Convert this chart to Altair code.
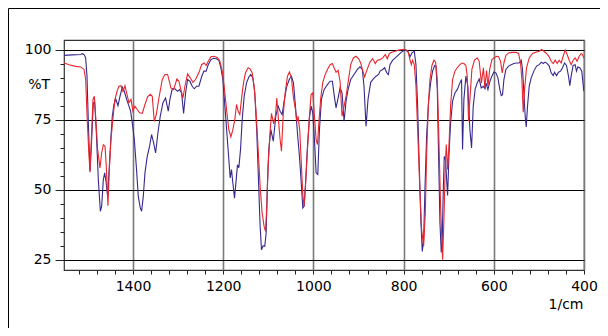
import altair as alt
import pandas as pd

# ---- data (wavenumber in 1/cm, transmittance in %T) ----
blue_wn = [1553, 1534.5, 1516, 1512.3, 1508, 1505, 1502, 1499, 1495.3, 1491.6, 1488, 1485, 1481.3, 1476.9,
           1472.4, 1469.5, 1465.8, 1462.8, 1459.9, 1456.2, 1452.5, 1448.8, 1445.9, 1442.2, 1438.5, 1433.3,
           1428.9, 1423.7, 1419.3, 1414.1, 1409, 1405.3, 1401.6, 1397.1, 1392.7, 1388.3, 1383.9, 1380.9,
           1377.2, 1373.5, 1368.4, 1363.2, 1358.8, 1354.3, 1349.9, 1344.7, 1339.6, 1333.6, 1327.8, 1321.8,
           1318.1, 1313, 1307, 1301.1, 1296.7, 1292.3, 1287.8, 1283.4, 1279, 1273.8, 1268.7, 1264.2, 1259.1,
           1253.9, 1248, 1242.8, 1237.7, 1233.2, 1227.3, 1221.4, 1214.8, 1209.6, 1205.2, 1200.8, 1196.3,
           1191.9, 1187.5, 1184.5, 1181.6, 1178.6, 1174.9, 1171.2, 1168.3, 1165.3, 1161.6, 1157.9, 1153.5,
           1148.3, 1143.1, 1138.8, 1134.3, 1129.9, 1125.5, 1121.8, 1118.1, 1115.1, 1111.4, 1107.8, 1104.8,
           1101.9, 1098.9, 1094.5, 1089, 1083.4, 1078.2, 1073.8, 1069.3, 1064.9, 1059, 1053.1, 1048.7,
           1044.2, 1039.8, 1035.4, 1030.9, 1026.5, 1023.5, 1020.6, 1016.9, 1013.2, 1008.8, 1005.1, 1001.4,
           997.7, 994, 990.3, 986.6, 982.2, 976.3, 968.9, 963, 957.9, 954.2, 949.8, 945.3, 940.9, 936.5, 932,
           927.6, 923.2, 917.3, 909.9, 902.5, 896.6, 891.5, 887.8, 883.3, 878.9, 873, 867.1, 861.2, 855.3,
           852.3, 846.4, 842, 837.5, 833.8, 830.2, 824.2, 818.3, 812.4, 806.5, 800.6, 794.7, 789.6, 785.9,
           781.5, 776.3, 772.6, 768.9, 765.2, 761.5, 758.6, 755.6, 752.7, 749, 744.5, 740.1, 735.7, 731.2,
           728.3, 725.3, 722.4, 719.4, 716.5, 714.3, 712, 709.8, 706.9, 704.6, 702.4, 699.5, 695.8, 691.4,
           686.2, 681.1, 675.1, 671.5, 669.3, 666.3, 661.9, 657.5, 653, 649.3, 645.6, 641.2, 636.8, 632.4,
           627.9, 623.5, 619.5, 617.5, 613, 608.6, 604.2, 599.8, 595.3, 590.9, 586.5, 583.5, 580.6, 577.6,
           573.2, 567.3, 561.4, 555.5, 549.6, 543.6, 539.2, 536.3, 533.3, 530.4, 528.1, 525.2, 521.5, 517.1,
           511.2, 505.2, 499.4, 494.9, 490.5, 486.1, 481.6, 477.2, 472.8, 468.3, 465.4, 460.9, 456.5, 452.1,
           447.7, 443.2, 438.8, 434.4, 431.4, 428.5, 424.1, 419.6, 416.7, 413.7, 409.3, 404.9, 400.4]
blue_t = [97.9, 98.1, 98.2, 98.5, 98.1, 97.0, 90.5, 73.8, 56.6, 67.9, 81, 81.2, 70.3, 53.6,
          42.3, 44.1, 53.6, 56, 53, 47.6, 58.4, 69.1, 76.2, 80.4, 82.4, 80,
          83.3, 86.6, 85.1, 82.2, 79.8, 78, 73.8, 67.9, 58.4, 47.6, 43.5, 42.3,
          47.6, 56, 61.9, 65.5, 69.7, 66.7, 63.1, 70.3, 76.2, 81, 82.7, 78,
          82.2, 86, 86, 85.1, 85.7, 84.5, 77.2, 84.5, 89.3, 88.7, 86.9, 86, 86.9,
          86.9, 90.2, 92.3, 92.3, 94.6, 96.4, 96.9, 96.7, 96.2, 93.5, 89.3, 79.8,
          70.3, 60.7, 54.2, 57.2, 52.4, 47.0, 53.6, 58.9, 57.8, 64.3, 75, 83.3,
          88.1, 90.2, 91.1, 89.9, 84.5, 70.3, 53.6, 36.9, 28.6, 30.0, 29.8, 34.5,
          52.4, 64.3, 71.5, 67.3, 76.2, 79.8, 78, 76.8, 81.6, 86.9, 89.5, 90.5,
          88.1, 79.8, 70.3, 61.9, 51.2, 43.5, 44.1, 53.6, 65.5, 75.6, 79.8, 77.4,
          67.9, 56, 55.4, 71.4, 82.2, 85.7, 87.5, 88.7, 88.7, 84, 79.2, 82.7, 86.3, 84.5, 74.4,
          81.6, 85.7, 89.3, 91.1, 92.9, 93.8, 92.9, 86.9, 72.6, 82.2, 88.3, 89.5, 90.5, 91.1,
          92.3, 92.9, 93.5, 91.7, 91.1, 94.6, 96.2, 97, 97.9, 98.8, 99.6, 99.8, 99, 97.4,
          98.8, 99.4, 94.6, 79.8, 58.4, 38.1, 28, 32.2, 50, 69.1, 81.6, 88.1, 92.3, 94.3,
          94.1, 85.7, 61.9, 38.1, 27.6, 32.2, 50, 61.9, 60.7, 53.6, 47.9, 61.9, 73.8, 81.6,
          84.5, 85.7, 88.1, 89.3, 64.3, 82.2, 90.5, 86.9, 71.4, 64.9, 79.8, 86, 88.1, 89.5,
          86.3, 86.9, 86, 88.1, 85.7, 88.7, 90.5, 92, 91.7, 89.9, 85.7, 83.6, 83.9, 89.3,
          92.9, 94.1, 94.6, 95, 95.2, 95.2, 96.2, 92.9, 84.5, 76.2, 72.4, 79.8, 86.9, 89.9,
          92.3, 94.1, 94.6, 95.5, 95, 95.5, 95, 94.1, 91.7, 90.7, 91.9, 90.7, 91.9, 92.3,
          93.5, 95.2, 94.3, 90.5, 87.1, 90.5, 94.3, 94.6, 92.3, 93.8, 93.5, 92.3, 85.1]

red_wn = [1553, 1541.8, 1527, 1516, 1508.6, 1505, 1501.2, 1497.6, 1495.3, 1492.4, 1488.7, 1485.7, 1482.8,
          1478.4, 1473.2, 1469.5, 1465.8, 1462.1, 1459.2, 1455.5, 1452.5, 1448.8, 1444.4, 1440, 1435.5,
          1431.1, 1426.7, 1422.2, 1417.8, 1413.4, 1409, 1404.5, 1400.1, 1395.7, 1390.5, 1385.3, 1379.5,
          1373.5, 1367.6, 1361.7, 1357.3, 1352.8, 1348.4, 1342.5, 1335.1, 1329.2, 1323.3, 1315.9, 1310,
          1302.6, 1298.2, 1293.8, 1289.3, 1284.9, 1279, 1273.1, 1267.2, 1261.3, 1253.9, 1248, 1242.1,
          1237.7, 1233.2, 1227.3, 1219.9, 1212.6, 1207.4, 1202.2, 1197.8, 1192.6, 1187.5, 1183, 1178.6,
          1174.2, 1170.5, 1166.8, 1163.1, 1159.5, 1155, 1150.6, 1144.7, 1140.3, 1135.8, 1131.4, 1127,
          1122.5, 1118.1, 1113.7, 1109.3, 1106.3, 1103.3, 1100.4, 1096.7, 1093, 1088, 1084.1, 1081.1,
          1077.5, 1073.8, 1070.8, 1067.1, 1062.7, 1057.5, 1053.1, 1048.7, 1044.2, 1039.8, 1036.8, 1033.9,
          1030.2, 1026.5, 1023.5, 1020.6, 1017.6, 1013.2, 1008.8, 1005.1, 1001.4, 997.7, 994, 991, 987.4,
          983.7, 979.3, 974.8, 968.9, 963, 957.9, 954.2, 949.8, 945.3, 940.9, 936.5, 932, 927.6, 923.2,
          917.3, 911.4, 905.5, 899.6, 895.2, 890.7, 886.3, 880.4, 874.5, 868.6, 862.7, 858.2, 852.3,
          846.4, 840.5, 836.1, 831.6, 825.7, 818.3, 811, 803.6, 796.2, 790.3, 785.9, 782.9, 780, 776.3,
          772.6, 768.1, 763.7, 760, 755.6, 751.9, 749, 745.3, 741.6, 737.2, 732.7, 729, 725.3, 721.7,
          718, 713.5, 710.6, 707.6, 705.4, 702.4, 699.5, 695.8, 691.4, 686.2, 681.1, 675.1, 670.7, 666.3,
          661.9, 658.9, 656, 653, 648.6, 642.7, 636.8, 632.4, 627.5, 623, 620, 616, 613, 609, 604.2,
          599.8, 593.8, 589.4, 585, 581.3, 577.6, 573.2, 567.3, 559.9, 551, 545.1, 540.7, 537.7, 534.8,
          531.8, 527.4, 521.5, 514.1, 506.7, 499.4, 493.5, 489, 483.1, 477.2, 472.8, 468.3, 463.9, 459.5,
          455, 450.6, 446.2, 441.8, 437.3, 432.9, 428.5, 424.1, 419.6, 415.2, 410.8, 406.3, 403.4, 400.4]
red_t = [95.2, 94.6, 94, 93.8, 92.9, 89.3, 73.8, 61.9, 56.2, 67.9, 82.2, 83.3, 76.2,
         64.3, 57.8, 63.1, 66, 65.5, 58.4, 44.3, 57.2, 67.9, 75.6, 82.2, 85.1,
         86.9, 87.1, 85.1, 87.1, 84, 81, 82.2, 78, 79.8, 78.6, 77.4, 77.2,
         80.4, 83.1, 84, 83.3, 74.4, 76.8, 82.7, 89.3, 91.1, 91.1, 86.3, 85.7,
         89.5, 88.7, 85.7, 82.7, 86.9, 91.3, 89.9, 88.3, 89.3, 91.7, 94.6, 95.2,
         94.3, 95.8, 97.4, 97.6, 97.1, 95.8, 92.3, 86.9, 78.6, 71.4, 68.8, 71.4,
         75, 80.4, 78, 76.8, 82.2, 88.1, 91.7, 93.5, 93.1, 91.7, 86.9, 77.4,
         64.3, 51.2, 41.7, 36.9, 35.1, 44, 58.4, 69.1, 77.2, 73.5, 76.5, 82.7,
         75, 67.9, 63.7, 76.2, 84.5, 90.5, 92, 89.9, 82.7, 78.6, 74.4, 76.2,
         70.9, 58.4, 48.2, 44.1, 51.2, 64.3, 76.2, 84, 84.5, 76.2, 67.9, 66.1, 75,
         82.7, 88.1, 90.7, 92.9, 94.6, 95, 93.5, 91.9, 92.6, 88.7, 76.2, 79.8, 83.3, 88.1,
         94.6, 97, 97.6, 96.7, 95.2, 92.6, 90.2, 93.1, 95.5, 96.7, 95, 96.2, 96.4,
         97, 98.2, 96.7, 98.6, 99, 99.4, 99.8, 100, 100, 99.4, 96.4, 94.6, 96.2, 94.6,
         86.9, 67.9, 48.8, 35.7, 29.8, 41.7, 61.9, 79.8, 89.3, 94.3, 96.2, 95.5, 89.3, 67.9,
         44.1, 25, 39.3, 58.4, 66.1, 57.2, 65.5, 79.8, 89.3, 92.3, 93.5, 94.6, 95.2, 95,
         94.3, 90.5, 74.4, 82.2, 92.9, 96.2, 97, 95.8, 88, 93.5, 86.5, 92.5, 87, 93, 96.4,
         97, 97.6, 97.4, 95.8, 91.7, 95.2, 97.9, 98.8, 99, 99, 98.6, 95.2, 89.3, 77.6,
         85.7, 93.5, 97, 98.6, 99, 99.4, 100, 99.4, 98.6, 97.4, 95.8, 95, 96.2, 95,
         96.2, 95.2, 97.6, 99.8, 98.2, 96.2, 94.6, 96.2, 97, 95.8, 97.6, 98.6, 98.2, 97]

x_domain = [1553, 400]
y_domain = [21.35, 103.4]
x_ticks = list(range(400, 1521, 40))
y_ticks = list(range(25, 101, 5))
y_title = "%T"
x_title = "1/cm"

FONT = "DejaVu Sans"
FS = 14

blue_df = pd.DataFrame({"wn": blue_wn, "t": blue_t})
red_df = pd.DataFrame({"wn": red_wn, "t": red_t})

x_axis = alt.Axis(
    values=x_ticks, format="d",
    labelExpr="datum.value % 200 === 0 ? datum.label : ''",
    labelOverlap=False, labelFlush=False,
    grid=True, gridColor="#7a7a7a", gridWidth=1.6,
    gridOpacity=alt.condition("datum.value % 200 === 0", alt.value(1), alt.value(0)),
    ticks=True, tickSize=4, tickColor="#222222", tickWidth=1, domain=False,
    labelFont=FONT, labelFontSize=FS, labelColor="black", labelPadding=5,
    title=x_title, titleFont=FONT, titleFontSize=FS, titleFontWeight="normal",
    titleColor="black", titleX=519, titleY=27, titleAlign="right", titleBaseline="top",
)
y_axis = alt.Axis(
    values=y_ticks,
    labelExpr="datum.value % 25 === 0 ? datum.label : ''",
    labelOverlap=False, labelFlush=False,
    grid=True, gridColor="black", gridWidth=1,
    gridOpacity=alt.condition("datum.value % 25 === 0", alt.value(1), alt.value(0)),
    ticks=True,
    tickSize=alt.condition("datum.value % 25 === 0", alt.value(9), alt.value(4)),
    tickColor="#222222", tickWidth=1, domain=False,
    labelFont=FONT, labelFontSize=FS, labelColor="black", labelPadding=4,
    title=None,
)

x_enc = alt.X("wn:Q", scale=alt.Scale(domain=x_domain, nice=False, zero=False), axis=x_axis)
y_enc = alt.Y("t:Q", scale=alt.Scale(domain=y_domain, nice=False, zero=False), axis=y_axis)

blue_line = alt.Chart(blue_df).mark_line(color="#35298f", strokeWidth=1.1, clip=True).encode(x=x_enc, y=y_enc)
red_line = alt.Chart(red_df).mark_line(color="#e8262e", strokeWidth=1.1, clip=True).encode(x=x_enc, y=y_enc)

# "%T" sits beside the y labels, at the height of 87.5 %T: (103.4 - 87.5) * 230 / 82.05
pct = alt.Chart(pd.DataFrame({"lbl": [y_title]})).mark_text(
    align="right", baseline="middle", font=FONT, fontSize=FS, color="black"
).encode(x=alt.value(-14), y=alt.value(44.5), text="lbl:N")

frame_top = alt.Chart(pd.DataFrame({"a": [0]})).mark_rule(color="black", strokeWidth=1).encode(
    x=alt.value(-55.5), x2=alt.value(540), y=alt.value(-31.5))
frame_left = alt.Chart(pd.DataFrame({"a": [0]})).mark_rule(color="black", strokeWidth=1).encode(
    x=alt.value(-55.5), y=alt.value(-31.5), y2=alt.value(300))

chart = alt.layer(blue_line, red_line, pct, frame_top, frame_left).properties(
    width=520, height=230,
    padding={"left": 56, "top": 32, "right": 16, "bottom": 58},
    autosize=alt.AutoSizeParams(type="none"),
    background="white",
).configure_view(stroke="#333333", strokeWidth=1.2)

chart.save("out.html", embed_options={"renderer": "svg", "actions": False})
